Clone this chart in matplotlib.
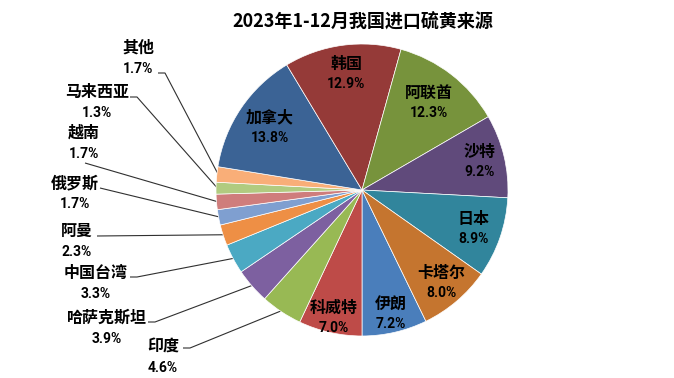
import numpy as np
import matplotlib
matplotlib.use("Agg")
import matplotlib.pyplot as plt

# ---- data (clockwise order as drawn) ----
names = ['伊朗', '科威特', '印度', '哈萨克斯坦', '中国台湾', '阿曼', '俄罗斯', '越南',
         '马来西亚', '其他', '加拿大', '韩国', '阿联酋', '沙特', '日本', '卡塔尔']
values = [7.2, 7.0, 4.6, 3.9, 3.3, 2.3, 1.7, 1.7, 1.3, 1.7, 13.8, 12.9, 12.3, 9.2, 8.9, 8.0]
pct_labels = ['7.2%', '7.0%', '4.6%', '3.9%', '3.3%', '2.3%', '1.7%', '1.7%',
              '1.3%', '1.7%', '13.8%', '12.9%', '12.3%', '9.2%', '8.9%', '8.0%']
title = '2023年1-12月我国进口硫黄来源'

# ---- styles / layout ----
colors = ['#4A7EBB', '#BE4B48', '#98B954', '#7D60A0', '#4BA9C3', '#EE8F45', '#7F9FD0',
          '#CF7D7C', '#B1CB80', '#F9AE78', '#3B6395', '#953A38', '#77933C', '#604A7B',
          '#31859C', '#C5752F']
W, H = 674, 378
cx, cy, R = 362, 190, 146          # pixel coords of pie
start_clock = 180.0                # 伊朗 ends at 6 o'clock

# inside label radial fraction
inside_frac = {'伊朗': 0.87, '科威特': 0.90, '加拿大': 0.76, '韩国': 0.80,
               '阿联酋': 0.75, '沙特': 0.83, '日本': 0.81, '卡塔尔': 0.84}
# outside labels: name centre (px), leader anchor (px), stub length
outside = {
    '其他':       ((138, 48), (158, 73), 7),
    '马来西亚':   ((97, 92), (130, 97), 7),
    '越南':       ((84, 133), (85, 163), 0),
    '俄罗斯':     ((75, 183), (100, 188), 0),
    '阿曼':       ((77, 231), (97, 236), 0),
    '中国台湾':   ((96, 273), (130, 277), 7),
    '哈萨克斯坦': ((107, 318), (148, 322), 7),
    '印度':       ((163, 347), (183, 348), 7),
}

fig = plt.figure(figsize=(W / 100, H / 100), dpi=100)
ax = fig.add_axes([0, 0, 1, 1])

total = sum(values)
first_deg = values[0] / total * 360
start_clock_first = start_clock - first_deg
startangle = 90 - start_clock_first

wedges, _ = ax.pie(values, colors=colors, startangle=startangle, counterclock=False,
                   center=(cx, H - cy), radius=R,
                   wedgeprops=dict(edgecolor='white', linewidth=0.5))
ax.set_xlim(0, W)
ax.set_ylim(0, H)
ax.set_aspect('auto')
ax.axis('off')

name_font = dict(family=['Noto Sans CJK SC', 'DejaVu Sans'], fontsize=11.5, fontweight='bold', color='black')
pct_font = dict(family=['Roboto', 'DejaVu Sans'], fontsize=10, fontweight='bold', color='black')


def T(px, py, s, **kw):
    ax.text(px, H - py, s, ha='center', va='center', **kw)


cum = 0.0
for name, v, pl in zip(names, values, pct_labels):
    mid_clock = start_clock_first + (cum + v / 2) / total * 360
    cum += v
    a = np.deg2rad(mid_clock)
    if name in inside_frac:
        f = inside_frac[name] * R
        px, py = cx + f * np.sin(a), cy - f * np.cos(a)
        T(px, py - 10, name, **name_font)
        T(px, py + 10, pl, **pct_font)
    else:
        (nx, ny), (ax0, ay0), stub = outside[name]
        T(nx, ny, name, **name_font)
        T(nx, ny + 21, pl, **pct_font)
        ex, ey = cx + R * 0.99 * np.sin(a), cy - R * 0.99 * np.cos(a)
        xs = [ax0, ax0 + stub, ex]
        ys = [H - ay0, H - ay0, H - ey]
        ax.plot(xs, ys, color='#303030', lw=0.8, solid_capstyle='butt', zorder=0.5)

T(363, 22, title, family=['Noto Sans CJK SC', 'DejaVu Sans'], fontsize=13, fontweight='bold')

fig.savefig('out.png', dpi=100, facecolor='white')
